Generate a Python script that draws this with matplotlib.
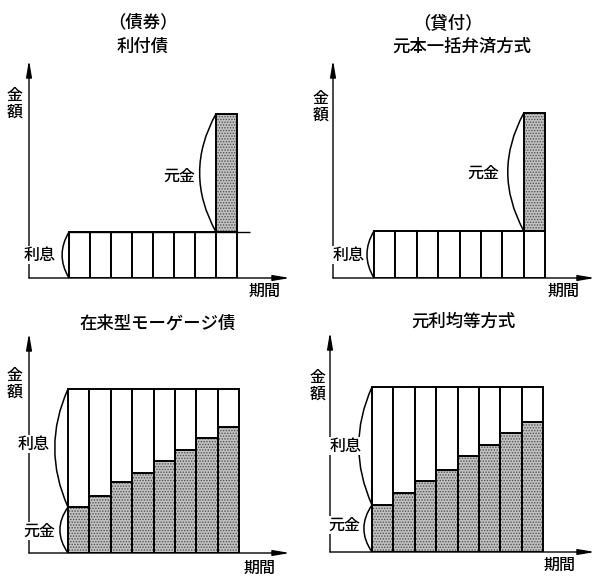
import numpy as np
import matplotlib
matplotlib.use('Agg')
import matplotlib.pyplot as plt
from matplotlib.path import Path
from matplotlib.patches import PathPatch

plt.rcParams['font.family'] = ['Noto Sans CJK JP', 'DejaVu Sans']
plt.rcParams['font.weight'] = 'medium'
plt.rcParams['hatch.linewidth'] = 0.7

W, H = 601, 578

periods = np.arange(1, 9)

# 利付債 (coupon = 1)
bond_coupon = np.ones(8)
bond_principal = np.array([0, 0, 0, 0, 0, 0, 0, 2.57])
# 元本一括弁済方式
loan_coupon = np.ones(8)
loan_principal = np.array([0, 0, 0, 0, 0, 0, 0, 2.51])
# 在来型モーゲージ債 (payment = 10)
mbs_payment = np.full(8, 10.0)
mbs_principal = np.array([2.8, 3.5, 4.3, 4.9, 5.6, 6.3, 7.0, 7.7])
# 元利均等方式
annuity_payment = np.full(8, 10.0)
annuity_principal = np.array([2.85, 3.6, 4.3, 5.0, 5.8, 6.5, 7.2, 7.9])

GRAY = '#c2c2c2'
DOTS = '#505050'


def px(x, y):
    return x / W, 1 - y / H


def make_axes(ox, oy, ex, ty, bar_left, bar_w, unit_px):
    # axes origin at the arrow corner, x unit = one bar width
    ax = fig.add_axes([ox / W, 1 - oy / H, (ex - ox) / W, (oy - ty) / H])
    lo = 0.5 - (bar_left - ox) / bar_w
    ax.set_xlim(lo, lo + (ex - ox) / bar_w)
    ax.set_ylim(0, (oy - ty) / unit_px)
    ax.axis('off')
    ap = dict(arrowstyle='-|>,head_length=1.0,head_width=0.17', lw=1.0,
              color='black', shrinkA=0, shrinkB=0)
    ax.annotate('', xy=(1, 0), xytext=(0, 0), xycoords='axes fraction', arrowprops=ap)
    ax.annotate('', xy=(0, 1), xytext=(0, 0), xycoords='axes fraction', arrowprops=ap)
    return ax


def gray_bars(ax, x, h, bottom):
    ax.bar(x, h, width=1, bottom=bottom, facecolor=GRAY, edgecolor=DOTS,
           hatch='......', linewidth=0, zorder=2)
    ax.bar(x, h, width=1, bottom=bottom, facecolor='none', edgecolor='black',
           linewidth=1.4, zorder=3)


def white_bars(ax, x, h, bottom=0):
    ax.bar(x, h, width=1, bottom=bottom, facecolor='white', edgecolor='black',
           linewidth=1.4, zorder=3)


def bracket(ax, x, y0, y1, bulge):
    verts = [(x, y0), (x - 2 * bulge, (y0 + y1) / 2), (x, y1)]
    path = Path(verts, [Path.MOVETO, Path.CURVE3, Path.CURVE3])
    ax.add_patch(PathPatch(path, fill=False, lw=1.1, clip_on=False, zorder=4))


def label(x, y, s, size=11.5):
    fig.text(*px(x, y), s, ha='center', va='center', fontsize=size, zorder=5,
             linespacing=0.95, bbox=dict(fc='white', ec='none', pad=0.5))


def title(x, y, s):
    fig.text(*px(x, y), s, ha='center', va='center', fontsize=12.5)


fig = plt.figure(figsize=(W / 100, H / 100), dpi=100)

# ---- top left: 利付債
ax = make_axes(29, 278, 290, 60, 69, 21, 46)
white_bars(ax, periods, bond_coupon)
gray_bars(ax, periods[-1:], bond_principal[-1:], bond_coupon[-1:])
ax.hlines(bond_coupon[0], 0.5, 8.5 + 0.6, color='black', lw=1.0, zorder=3)
bracket(ax, 0.5, 0, bond_coupon[0], 0.33)
bracket(ax, 7.5, bond_coupon[-1], bond_coupon[-1] + bond_principal[-1], 0.78)

# ---- top right: 元本一括弁済方式
ax = make_axes(333, 278, 595, 60, 374, 21.4, 47)
white_bars(ax, periods, loan_coupon)
gray_bars(ax, periods[-1:], loan_principal[-1:], loan_coupon[-1:])
bracket(ax, 0.5, 0, loan_coupon[0], 0.33)
bracket(ax, 7.5, loan_coupon[-1], loan_coupon[-1] + loan_principal[-1], 0.75)

# ---- bottom left: 在来型モーゲージ債
ax = make_axes(29, 553, 290, 333, 68, 21.4, 16.4)
gray_bars(ax, periods, mbs_principal, 0)
white_bars(ax, periods, mbs_payment - mbs_principal, mbs_principal)
bracket(ax, 0.5, mbs_principal[0], mbs_payment[0], 0.62)
bracket(ax, 0.5, 0, mbs_principal[0], 0.38)

# ---- bottom right: 元利均等方式
ax = make_axes(330, 552, 595, 332, 372, 21.4, 16.5)
gray_bars(ax, periods, annuity_principal, 0)
white_bars(ax, periods, annuity_payment - annuity_principal, annuity_principal)
bracket(ax, 0.5, annuity_principal[0], annuity_payment[0], 0.62)
bracket(ax, 0.5, 0, annuity_principal[0], 0.38)

# ---- titles
title(143, 22, '（債券）')
title(143, 47, '利付債')
title(448, 23, '（貸付）')
title(462, 47, '元本一括弁済方式')
title(158, 323, '在来型モーゲージ債')
title(463, 322, '元利均等方式')

# ---- labels
label(15, 104, '金\n額')
label(179, 176, '元金')
label(40, 255, '利息')
label(265, 291, '期間')

label(321, 107, '金\n額')
label(483, 173, '元金')
label(349, 255, '利息')
label(564, 291, '期間')

label(15, 384, '金\n額')
label(34, 444, '利息')
label(39, 531, '元金')
label(260, 568, '期間')

label(318, 386, '金\n額')
label(346, 446, '利息')
label(344, 525, '元金')
label(560, 565, '期間')

fig.savefig('out.png', dpi=100)
